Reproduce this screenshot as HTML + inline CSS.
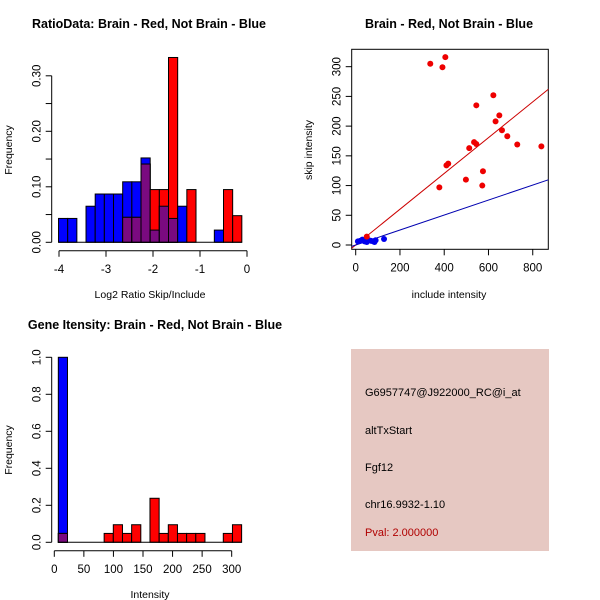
<!DOCTYPE html>
<html><head><meta charset="utf-8"><style>
html,body{margin:0;padding:0;background:#fff;}
svg{display:block;font-family:"Liberation Sans",sans-serif;}
</style></head><body>
<svg id="s" width="600" height="600" viewBox="0 0 600 600" xmlns="http://www.w3.org/2000/svg">
<rect width="600" height="600" fill="#fff"/>
<text x="149" y="28" text-anchor="middle" font-size="12.5" font-weight="bold">RatioData: Brain - Red, Not Brain - Blue</text>
<text x="449" y="28" text-anchor="middle" font-size="12.5" font-weight="bold">Brain - Red, Not Brain - Blue</text>
<text x="155" y="329" text-anchor="middle" font-size="12.5" font-weight="bold">Gene Itensity: Brain - Red, Not Brain - Blue</text>
<text x="150" y="298" text-anchor="middle" font-size="10.5">Log2 Ratio Skip/Include</text>
<text transform="translate(12,150) rotate(-90)" text-anchor="middle" font-size="10.5">Frequency</text>
<text x="449" y="298" text-anchor="middle" font-size="10.5">include intensity</text>
<text transform="translate(312,150) rotate(-90)" text-anchor="middle" font-size="10.5">skip intensity</text>
<text x="150" y="598" text-anchor="middle" font-size="10.5">Intensity</text>
<text transform="translate(12,450) rotate(-90)" text-anchor="middle" font-size="10.5">Frequency</text>
<g>
<rect x="351" y="349" width="198" height="202" fill="#e6c8c2"/>
<text x="365" y="396" font-size="11">G6957747@J922000_RC@i_at</text>
<text x="365" y="434" font-size="11">altTxStart</text>
<text x="365" y="471" font-size="11">Fgf12</text>
<text x="365" y="508" font-size="11">chr16.9932-1.10</text>
<text x="365" y="536" font-size="11" fill="#b00000">Pval: 2.000000</text>
</g>
<g id="g1"></g><g id="g2"></g><g id="g3"></g>
</svg>
<script>
// Ratio histogram data
const ratioStart = -4.01, ratioWidth = 0.195;
const ratioBlue = [0.043,0.043,0,0.065,0.087,0.087,0.087,0.109,0.109,0.152,0.022,0.065,0.043,0.065,0,0,0,0.022,0,0];
const ratioRed  = [0,0,0,0,0,0,0,0.045,0.045,0.141,0.095,0.095,0.333,0,0.095,0,0,0,0.095,0.048];
const ratioXTicks = [-4,-3,-2,-1,0];
const ratioYTicks = [0,0.05,0.10,0.15,0.20,0.25,0.30];
const ratioYLabels = ["0.00","","0.10","","0.20","","0.30"];
// Scatter data
const redX = [337,392,405,622,545,649,632,661,685,730,839,535,545,513,410,418,378,498,575,572,50];
const redY = [305,299,316,252,235,218,208,193,183,169,166,173,170,163,134,137,97,110,124,100,14];
const blueX = [10,20,30,40,45,50,60,70,80,85,90,128];
const blueY = [6,7,9,6,8,5,8,7,6,5,8,10];
const redSlope = 0.301, blueSlope = 0.126;
const scatXTicks = [0,200,400,600,800];
const scatYTicks = [0,50,100,150,200,250,300];
// Intensity histogram data
const intStart = 6.8, intWidth = 15.5;
const intBlue = [1.0,0,0,0,0,0,0,0,0,0,0,0,0,0,0,0,0,0,0,0];
const intRed  = [0.048,0,0,0,0,0.048,0.095,0.048,0.095,0,0.238,0.048,0.095,0.048,0.048,0.048,0,0,0.048,0.095];
const intXTicks = [0,50,100,150,200,250,300];
const intYTicks = [0,0.2,0.4,0.6,0.8,1.0];
const intYLabels = ["0.0","0.2","0.4","0.6","0.8","1.0"];

const NS="http://www.w3.org/2000/svg";
function mk(parent,tag,attrs){const e=document.createElementNS(NS,tag);for(const k in attrs)e.setAttribute(k,attrs[k]);parent.appendChild(e);return e;}

function hist(g,start,width,blue,red,xs,ys,xT,yT,yL,prefix){
  for(let i=0;i<blue.length;i++){
    const x0=xs(start+i*width), x1=xs(start+(i+1)*width);
    const b=blue[i], r=red[i];
    if(b>0){const e=mk(g,'rect',{x:x0,y:ys(b),width:x1-x0,height:ys(0)-ys(b),fill:'#0000ff',stroke:'#000','stroke-width':1});
      
      }
    if(r>0){const e=mk(g,'rect',{x:x0,y:ys(r),width:x1-x0,height:ys(0)-ys(r),fill:'#ff0000',stroke:'#000','stroke-width':1});
      
      }
    const m=Math.min(b,r);
    if(m>0){const e=mk(g,'rect',{x:x0,y:ys(m),width:x1-x0,height:ys(0)-ys(m),fill:'#7a0a80',stroke:'#000','stroke-width':1});
      
      }
  }
  const base=ys(0);
  mk(g,'line',{x1:xs(start),x2:xs(start+blue.length*width),y1:base,y2:base,stroke:'#000'});
  const ay=base+8.5;
  const xa=mk(g,'line',{x1:xs(xT[0]),x2:xs(xT[xT.length-1]),y1:ay,y2:ay,stroke:'#000'});
  
  
  xT.forEach(v=>{mk(g,'line',{x1:xs(v),x2:xs(v),y1:ay,y2:ay+6,stroke:'#000'});
    const t=mk(g,'text',{x:xs(v),y:ay+22,'text-anchor':'middle','font-size':11.5});t.textContent=v;
    
    });
  const ax=51.7;
  const ya=mk(g,'line',{x1:ax,x2:ax,y1:ys(yT[0]),y2:ys(yT[yT.length-1]),stroke:'#000'});
  
  
  yT.forEach((v,i)=>{mk(g,'line',{x1:ax-6,x2:ax,y1:ys(v),y2:ys(v),stroke:'#000'});
    if(yL[i]){const t=mk(g,'text',{transform:`translate(${ax-11},${ys(v)}) rotate(-90)`,'text-anchor':'middle','font-size':11.5});t.textContent=yL[i];
    
    }});
}

hist(document.getElementById('g1'),ratioStart,ratioWidth,ratioBlue,ratioRed,
  v=>59+(v+4)*47, v=>242.3-v*555, ratioXTicks, ratioYTicks, ratioYLabels,'ratio');
hist(document.getElementById('g3'),intStart,intWidth,intBlue,intRed,
  v=>54.3+v*0.5913, v=>542.3-v*185, intXTicks, intYTicks, intYLabels,'intensity');

(function(){
  const g=document.getElementById('g2');
  const xs=v=>355.7+v*0.2213, ys=v=>245-v*0.5944;
  const L=351.7,R=548.3,T=49.3,B=249.3;
  mk(g,'clipPath',{id:'cp'}).appendChild(document.createElementNS(NS,'rect'));
  const cr=g.querySelector('#cp rect');cr.setAttribute('x',L);cr.setAttribute('y',T);cr.setAttribute('width',R-L);cr.setAttribute('height',B-T);
  const box=mk(g,'rect',{x:L,y:T,width:R-L,height:B-T,fill:'none',stroke:'#000'});
  
  
  const xmin=-50,xmax=900;
  const rl=mk(g,'line',{x1:xs(xmin),y1:ys(xmin*redSlope),x2:xs(xmax),y2:ys(xmax*redSlope),stroke:'#cc0000','clip-path':'url(#cp)'});
  
  
  const bl=mk(g,'line',{x1:xs(xmin),y1:ys(xmin*blueSlope),x2:xs(xmax),y2:ys(xmax*blueSlope),stroke:'#0000b0','clip-path':'url(#cp)'});
  
  
  blueX.forEach((v,i)=>{const c=mk(g,'circle',{cx:xs(v),cy:ys(blueY[i]),r:3,fill:'#0000ee'});
    
    });
  redX.forEach((v,i)=>{const c=mk(g,'circle',{cx:xs(v),cy:ys(redY[i]),r:3,fill:'#ee0000'});
    
    });
  scatXTicks.forEach(v=>{mk(g,'line',{x1:xs(v),x2:xs(v),y1:B,y2:B+6,stroke:'#000'});
    const t=mk(g,'text',{x:xs(v),y:B+22,'text-anchor':'middle','font-size':11.5});t.textContent=v;
    
    });
  scatYTicks.forEach(v=>{mk(g,'line',{x1:L-6,x2:L,y1:ys(v),y2:ys(v),stroke:'#000'});
    const t=mk(g,'text',{transform:`translate(${L-11},${ys(v)}) rotate(-90)`,'text-anchor':'middle','font-size':11.5});t.textContent=v;
    
    });
})();
</script>
</body></html>
